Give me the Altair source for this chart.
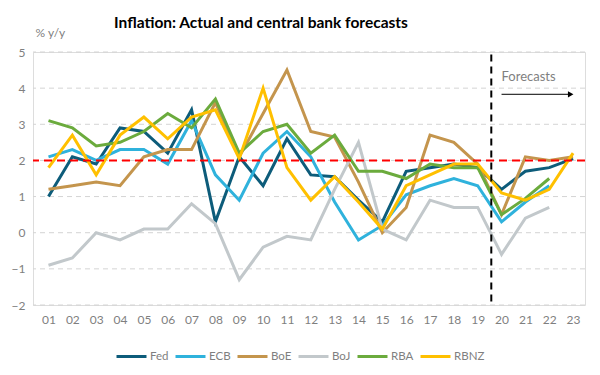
import altair as alt
import pandas as pd

years = list(range(1, 24))
fed = [1.0, 2.1, 1.9, 2.9, 2.8, 2.2, 3.4, 0.3, 2.1, 1.3, 2.6, 1.6, 1.55, 0.9, 0.3, 1.7, 1.8, 1.9, 1.8, 1.2, 1.7, 1.8, 2.05]
ecb = [2.1, 2.3, 2.0, 2.3, 2.3, 1.9, 3.1, 1.6, 0.9, 2.2, 2.8, 2.1, 0.85, -0.2, 0.2, 1.05, 1.3, 1.5, 1.3, 0.3, 0.85, 1.3]
boe = [1.2, 1.3, 1.4, 1.3, 2.1, 2.3, 2.3, 3.6, 2.1, 3.3, 4.5, 2.8, 2.65, 1.4, 0.0, 0.7, 2.7, 2.5, 1.9, 0.5, 2.1, 2.0, 2.1]
boj = [-0.9, -0.7, 0.0, -0.2, 0.1, 0.1, 0.8, 0.25, -1.3, -0.4, -0.1, -0.2, 1.2, 2.5, 0.1, -0.2, 0.9, 0.7, 0.7, -0.6, 0.4, 0.7]
rba = [3.1, 2.9, 2.4, 2.5, 2.8, 3.3, 2.9, 3.7, 2.2, 2.8, 3.0, 2.2, 2.7, 1.7, 1.7, 1.5, 1.9, 1.8, 1.8, 0.5, 0.95, 1.5]
rbnz = [1.8, 2.7, 1.6, 2.7, 3.2, 2.6, 3.2, 3.4, 2.05, 4.0, 1.8, 0.9, 1.55, 0.85, 0.1, 1.3, 1.6, 1.9, 1.9, 1.1, 0.9, 1.2, 2.2]

banks = ["Fed", "ECB", "BoE", "BoJ", "RBA", "RBNZ"]
colors = ["#0D5C7A", "#2FB2DC", "#C4954D", "#C2C8CB", "#6BAB3D", "#FFC000"]
series = [fed, ecb, boe, boj, rba, rbnz]
y_ticks = [-2, -1, 0, 1, 2, 3, 4, 5]

rows = []
for b, s in zip(banks, series):
    for x, v in zip(years, s):
        rows.append({"year": x, "value": v, "bank": b})
df = pd.DataFrame(rows)

target = 2.0
forecast_start = 19.57
FONT = "Lato"
GREY = "#7F7F7F"

xscale = alt.Scale(domain=[0.35, 23.5], nice=False, zero=False)
yscale = alt.Scale(domain=[-2, 5], nice=False, zero=False)

xaxis = alt.Axis(values=years, title=None, grid=False, domain=False, ticks=False,
                 labelOverlap=False,
                 labelExpr="datum.value < 10 ? '0' + datum.value : '' + datum.value",
                 labelFont=FONT, labelFontSize=12, labelColor=GREY, labelPadding=9)
yaxis = alt.Axis(values=y_ticks, title="% y/y", titleAngle=0,
                 titleAlign="left", titleBaseline="middle", titleX=2, titleY=-20,
                 titleFont=FONT, titleFontSize=12, titleColor=GREY, titleFontWeight="normal",
                 domain=False, ticks=False, grid=False, labelOverlap=False,
                 labelFont=FONT, labelFontSize=12, labelColor=GREY, labelPadding=8)

grid = alt.Chart(pd.DataFrame({"g": y_ticks})).mark_rule(
    color="#D4D4D4", strokeWidth=1, strokeDash=[5, 4]).encode(
    y=alt.Y("g:Q", scale=yscale, axis=yaxis))

lines = alt.Chart(df).mark_line(strokeWidth=3, strokeJoin="miter").encode(
    x=alt.X("year:Q", scale=xscale, axis=xaxis),
    y=alt.Y("value:Q", scale=yscale, axis=yaxis),
    color=alt.Color("bank:N", scale=alt.Scale(domain=banks, range=colors), sort=banks,
                    legend=alt.Legend(title=None, orient="none", direction="horizontal",
                                      columns=6, legendX=82, legendY=288, symbolType="stroke",
                                      symbolStrokeWidth=3, symbolSize=900, labelFont=FONT,
                                      labelFontSize=11.5, labelColor=GREY, labelOffset=2,
                                      columnPadding=0, gridAlign="none")),
    order="year:Q",
)

tgt = alt.Chart(pd.DataFrame({"t": [target]})).mark_rule(
    color="#FF0000", strokeWidth=2, strokeDash=[8, 5]).encode(
    y=alt.Y("t:Q", scale=yscale, axis=yaxis))

vline = alt.Chart(pd.DataFrame({"x": [forecast_start], "y": [-1.9], "y2": [5.0]})).mark_rule(
    color="black", strokeWidth=2, strokeDash=[7, 5]).encode(
    x=alt.X("x:Q", scale=xscale, axis=xaxis), y=alt.Y("y:Q", scale=yscale, axis=yaxis), y2="y2:Q")

arrow_df = pd.DataFrame({"x": [20.0], "x2": [22.9], "y": [3.83]})
arrow = alt.Chart(arrow_df).mark_rule(color="black", strokeWidth=1).encode(
    x=alt.X("x:Q", scale=xscale, axis=xaxis), x2="x2:Q", y=alt.Y("y:Q", scale=yscale, axis=yaxis))
head = alt.Chart(arrow_df).mark_point(shape="triangle-right", filled=True, color="black",
                                      size=40, opacity=1).encode(
    x=alt.X("x2:Q", scale=xscale, axis=xaxis), y=alt.Y("y:Q", scale=yscale, axis=yaxis))

label = alt.Chart(pd.DataFrame({"x": [20.0], "y": [4.3], "t": ["Forecasts"]})).mark_text(
    align="left", baseline="middle", font=FONT, fontSize=13, color=GREY).encode(
    x=alt.X("x:Q", scale=xscale, axis=xaxis), y=alt.Y("y:Q", scale=yscale, axis=yaxis), text="t:N")

title = alt.Chart(pd.DataFrame({"t": ["Inflation: Actual and central bank forecasts"]})).mark_text(
    align="center", baseline="middle", font=FONT, fontSize=15.5, fontWeight="bold",
    color="black").encode(x=alt.value(228), y=alt.value(-29), text="t:N")

chart = alt.layer(grid, lines, tgt, vline, arrow, head, label, title).properties(
    width=552, height=253,
    autosize=alt.AutoSizeParams(type="none"),
    padding={"left": 25, "top": 44, "right": 7, "bottom": 62},
).configure_view(strokeWidth=0, stroke="transparent").configure(background="white")

chart.save("out.html", embed_options={"renderer": "svg", "actions": False})
